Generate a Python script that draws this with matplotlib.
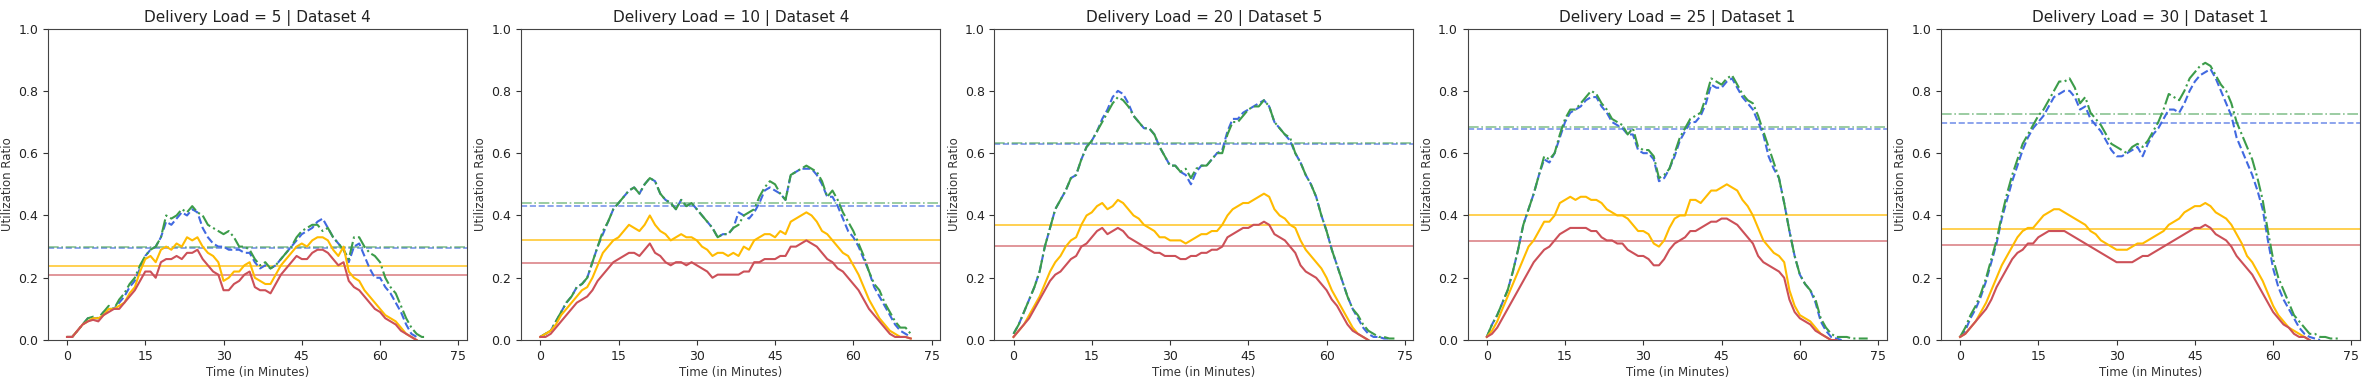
import numpy as np
import matplotlib
matplotlib.use("Agg")
import matplotlib.pyplot as plt

# panel titles
loads = [5, 10, 20, 25, 30]
datasets = [4, 4, 5, 1, 1]

# utilization, one value per minute
blue_5 = [0.01, 0.01, 0.03, 0.05, 0.07, 0.07, 0.07, 0.09, 0.10, 0.10, 0.12, 0.14, 0.17, 0.19, 0.23,
          0.27, 0.29, 0.30, 0.33, 0.38, 0.37, 0.39, 0.41, 0.40, 0.42, 0.41, 0.36, 0.33, 0.31, 0.30,
          0.30, 0.29, 0.29, 0.29, 0.28, 0.28, 0.25, 0.23, 0.24, 0.23, 0.24, 0.26, 0.28, 0.30, 0.32,
          0.34, 0.35, 0.36, 0.38, 0.39, 0.36, 0.33, 0.31, 0.29, 0.25, 0.30, 0.31, 0.27, 0.23, 0.20,
          0.20, 0.17, 0.15, 0.12, 0.09, 0.05, 0.02, 0.01]
green_5 = [0.01, 0.01, 0.03, 0.05, 0.07, 0.075, 0.07, 0.09, 0.11, 0.10, 0.13, 0.15, 0.18, 0.20, 0.24,
           0.27, 0.29, 0.30, 0.33, 0.40, 0.39, 0.40, 0.42, 0.41, 0.43, 0.41, 0.40, 0.37, 0.36, 0.35,
           0.34, 0.35, 0.33, 0.30, 0.30, 0.29, 0.26, 0.24, 0.25, 0.23, 0.24, 0.26, 0.28, 0.30, 0.33,
           0.35, 0.36, 0.37, 0.37, 0.35, 0.36, 0.33, 0.31, 0.29, 0.26, 0.33, 0.33, 0.30, 0.28, 0.27,
           0.25, 0.20, 0.17, 0.15, 0.11, 0.07, 0.04, 0.02, 0.01, 0.01]
yellow_5 = [0.01, 0.01, 0.03, 0.05, 0.06, 0.07, 0.07, 0.08, 0.10, 0.10, 0.11, 0.12, 0.15, 0.17, 0.22,
            0.26, 0.27, 0.25, 0.29, 0.30, 0.29, 0.31, 0.30, 0.33, 0.32, 0.33, 0.30, 0.28, 0.27, 0.25,
            0.19, 0.20, 0.22, 0.22, 0.24, 0.25, 0.20, 0.19, 0.18, 0.18, 0.21, 0.24, 0.26, 0.28, 0.30,
            0.31, 0.30, 0.32, 0.33, 0.33, 0.32, 0.29, 0.27, 0.30, 0.22, 0.20, 0.19, 0.16, 0.14, 0.12,
            0.10, 0.08, 0.07, 0.06, 0.04, 0.02, 0.01, 0.0]
red_5 = [0.01, 0.01, 0.03, 0.05, 0.06, 0.065, 0.06, 0.08, 0.09, 0.10, 0.10, 0.12, 0.14, 0.16, 0.19,
         0.22, 0.22, 0.20, 0.25, 0.26, 0.26, 0.27, 0.26, 0.28, 0.28, 0.29, 0.26, 0.24, 0.22, 0.21,
         0.16, 0.16, 0.18, 0.19, 0.21, 0.22, 0.17, 0.16, 0.16, 0.15, 0.18, 0.21, 0.23, 0.25, 0.27,
         0.26, 0.26, 0.28, 0.29, 0.29, 0.28, 0.26, 0.24, 0.25, 0.19, 0.17, 0.16, 0.14, 0.12, 0.10,
         0.09, 0.07, 0.06, 0.05, 0.03, 0.02, 0.01, 0.0]

blue_10 = [0.01, 0.02, 0.03, 0.06, 0.09, 0.12, 0.14, 0.17, 0.18, 0.20, 0.25, 0.30, 0.34, 0.38, 0.42,
           0.44, 0.46, 0.48, 0.49, 0.47, 0.50, 0.52, 0.51, 0.47, 0.45, 0.44, 0.42, 0.45, 0.43, 0.44,
           0.42, 0.40, 0.38, 0.36, 0.33, 0.34, 0.34, 0.36, 0.41, 0.40, 0.39, 0.41, 0.44, 0.48, 0.49,
           0.48, 0.47, 0.45, 0.53, 0.54, 0.55, 0.55, 0.55, 0.53, 0.50, 0.46, 0.46, 0.43, 0.39, 0.35,
           0.33, 0.30, 0.26, 0.22, 0.17, 0.14, 0.11, 0.08, 0.05, 0.03, 0.02, 0.01]
green_10 = [0.01, 0.02, 0.03, 0.06, 0.09, 0.12, 0.14, 0.17, 0.18, 0.20, 0.25, 0.30, 0.35, 0.38, 0.42,
            0.44, 0.46, 0.48, 0.49, 0.47, 0.50, 0.52, 0.51, 0.47, 0.45, 0.44, 0.42, 0.45, 0.43, 0.44,
            0.42, 0.40, 0.38, 0.36, 0.33, 0.34, 0.34, 0.36, 0.37, 0.40, 0.41, 0.42, 0.46, 0.49, 0.51,
            0.50, 0.47, 0.45, 0.53, 0.54, 0.55, 0.56, 0.55, 0.54, 0.51, 0.46, 0.48, 0.45, 0.41, 0.38,
            0.35, 0.31, 0.27, 0.22, 0.18, 0.16, 0.12, 0.09, 0.06, 0.04, 0.04, 0.02]
yellow_10 = [0.01, 0.02, 0.03, 0.05, 0.08, 0.10, 0.12, 0.14, 0.16, 0.17, 0.20, 0.24, 0.28, 0.30, 0.32,
             0.33, 0.35, 0.37, 0.36, 0.35, 0.37, 0.40, 0.37, 0.35, 0.34, 0.32, 0.33, 0.34, 0.33, 0.33,
             0.32, 0.30, 0.29, 0.27, 0.28, 0.28, 0.27, 0.28, 0.27, 0.30, 0.29, 0.32, 0.33, 0.34, 0.34,
             0.33, 0.35, 0.34, 0.38, 0.39, 0.40, 0.41, 0.40, 0.38, 0.35, 0.34, 0.32, 0.30, 0.28, 0.27,
             0.24, 0.21, 0.17, 0.13, 0.10, 0.07, 0.05, 0.03, 0.02, 0.01, 0.01, 0.005]
red_10 = [0.01, 0.01, 0.02, 0.04, 0.06, 0.08, 0.10, 0.12, 0.13, 0.14, 0.16, 0.19, 0.21, 0.23, 0.25,
          0.26, 0.27, 0.28, 0.28, 0.27, 0.29, 0.31, 0.28, 0.27, 0.25, 0.24, 0.25, 0.25, 0.24, 0.25,
          0.24, 0.23, 0.22, 0.20, 0.21, 0.21, 0.21, 0.21, 0.21, 0.22, 0.22, 0.25, 0.25, 0.26, 0.26,
          0.26, 0.27, 0.27, 0.30, 0.30, 0.31, 0.32, 0.31, 0.30, 0.28, 0.26, 0.25, 0.23, 0.22, 0.20,
          0.18, 0.16, 0.13, 0.10, 0.08, 0.06, 0.04, 0.02, 0.01, 0.01, 0.01, 0.005]

blue_20 = [0.02, 0.05, 0.09, 0.13, 0.17, 0.22, 0.30, 0.36, 0.42, 0.45, 0.48, 0.52, 0.53, 0.58, 0.62,
           0.64, 0.67, 0.71, 0.74, 0.78, 0.80, 0.79, 0.76, 0.72, 0.70, 0.68, 0.68, 0.66, 0.62, 0.59,
           0.56, 0.56, 0.54, 0.53, 0.50, 0.54, 0.56, 0.56, 0.58, 0.60, 0.61, 0.67, 0.71, 0.71, 0.73,
           0.74, 0.75, 0.76, 0.77, 0.75, 0.70, 0.68, 0.66, 0.64, 0.60, 0.57, 0.53, 0.50, 0.46, 0.40,
           0.35, 0.29, 0.24, 0.19, 0.14, 0.10, 0.07, 0.04, 0.02, 0.01, 0.01, 0.005, 0.005]
green_20 = [0.02, 0.05, 0.09, 0.13, 0.17, 0.22, 0.30, 0.36, 0.42, 0.45, 0.48, 0.52, 0.53, 0.58, 0.62,
            0.64, 0.67, 0.70, 0.73, 0.76, 0.78, 0.77, 0.75, 0.72, 0.70, 0.68, 0.68, 0.66, 0.62, 0.59,
            0.56, 0.56, 0.54, 0.55, 0.52, 0.55, 0.56, 0.56, 0.58, 0.60, 0.60, 0.66, 0.70, 0.70, 0.72,
            0.74, 0.75, 0.75, 0.77, 0.75, 0.70, 0.68, 0.66, 0.65, 0.60, 0.57, 0.53, 0.50, 0.46, 0.40,
            0.35, 0.29, 0.24, 0.19, 0.14, 0.10, 0.08, 0.05, 0.03, 0.02, 0.01, 0.01, 0.005, 0.005]
yellow_20 = [0.01, 0.03, 0.05, 0.08, 0.11, 0.14, 0.18, 0.22, 0.25, 0.27, 0.30, 0.32, 0.33, 0.37, 0.40,
             0.41, 0.43, 0.44, 0.42, 0.43, 0.45, 0.44, 0.42, 0.40, 0.39, 0.37, 0.36, 0.35, 0.33, 0.33,
             0.32, 0.32, 0.32, 0.31, 0.32, 0.33, 0.34, 0.34, 0.35, 0.35, 0.37, 0.40, 0.42, 0.43, 0.44,
             0.44, 0.45, 0.46, 0.47, 0.46, 0.42, 0.40, 0.39, 0.37, 0.36, 0.32, 0.29, 0.27, 0.25, 0.23,
             0.20, 0.16, 0.13, 0.10, 0.07, 0.04, 0.02, 0.01, 0.0]
red_20 = [0.01, 0.03, 0.05, 0.07, 0.10, 0.13, 0.16, 0.19, 0.21, 0.22, 0.24, 0.26, 0.27, 0.30, 0.31,
          0.33, 0.35, 0.36, 0.34, 0.35, 0.36, 0.35, 0.33, 0.32, 0.31, 0.30, 0.29, 0.28, 0.28, 0.27,
          0.27, 0.27, 0.26, 0.26, 0.27, 0.27, 0.28, 0.28, 0.29, 0.29, 0.30, 0.33, 0.34, 0.35, 0.36,
          0.36, 0.37, 0.37, 0.38, 0.37, 0.34, 0.33, 0.32, 0.30, 0.28, 0.24, 0.22, 0.21, 0.20, 0.18,
          0.16, 0.13, 0.11, 0.08, 0.05, 0.03, 0.02, 0.01, 0.0]

blue_25 = [0.01, 0.05, 0.08, 0.12, 0.16, 0.22, 0.29, 0.37, 0.42, 0.47, 0.53, 0.58, 0.57, 0.60, 0.65,
           0.70, 0.73, 0.74, 0.75, 0.77, 0.78, 0.78, 0.75, 0.73, 0.70, 0.69, 0.68, 0.66, 0.66, 0.61,
           0.60, 0.60, 0.58, 0.51, 0.52, 0.55, 0.59, 0.64, 0.67, 0.70, 0.70, 0.72, 0.76, 0.82, 0.81,
           0.81, 0.83, 0.84, 0.81, 0.78, 0.76, 0.74, 0.70, 0.66, 0.59, 0.55, 0.52, 0.44, 0.35, 0.27,
           0.21, 0.18, 0.16, 0.12, 0.06, 0.03, 0.01, 0.005, 0.0]
green_25 = [0.01, 0.05, 0.08, 0.12, 0.16, 0.22, 0.29, 0.37, 0.42, 0.47, 0.53, 0.59, 0.58, 0.60, 0.66,
            0.71, 0.74, 0.74, 0.76, 0.78, 0.80, 0.79, 0.76, 0.74, 0.71, 0.70, 0.69, 0.66, 0.68, 0.62,
            0.61, 0.61, 0.59, 0.52, 0.53, 0.55, 0.60, 0.65, 0.68, 0.71, 0.72, 0.73, 0.78, 0.84, 0.83,
            0.82, 0.84, 0.85, 0.82, 0.79, 0.77, 0.76, 0.72, 0.67, 0.62, 0.57, 0.52, 0.44, 0.35, 0.27,
            0.21, 0.18, 0.16, 0.13, 0.07, 0.04, 0.02, 0.01, 0.01, 0.01, 0.005, 0.005, 0.005, 0.005]
yellow_25 = [0.01, 0.03, 0.06, 0.10, 0.14, 0.18, 0.22, 0.26, 0.30, 0.32, 0.35, 0.38, 0.38, 0.40, 0.44,
             0.45, 0.46, 0.45, 0.46, 0.46, 0.45, 0.45, 0.44, 0.42, 0.41, 0.40, 0.40, 0.39, 0.37, 0.35,
             0.35, 0.34, 0.31, 0.30, 0.32, 0.36, 0.39, 0.40, 0.40, 0.45, 0.45, 0.44, 0.46, 0.48, 0.48,
             0.49, 0.50, 0.49, 0.48, 0.45, 0.43, 0.40, 0.36, 0.32, 0.30, 0.28, 0.27, 0.25, 0.16, 0.11,
             0.08, 0.07, 0.06, 0.04, 0.02, 0.01, 0.0, 0.0]
red_25 = [0.01, 0.02, 0.04, 0.07, 0.10, 0.13, 0.16, 0.19, 0.22, 0.25, 0.27, 0.29, 0.30, 0.32, 0.34,
          0.35, 0.36, 0.36, 0.36, 0.36, 0.35, 0.35, 0.33, 0.32, 0.32, 0.31, 0.31, 0.29, 0.28, 0.27,
          0.27, 0.26, 0.24, 0.24, 0.26, 0.29, 0.31, 0.32, 0.33, 0.35, 0.35, 0.36, 0.37, 0.38, 0.38,
          0.39, 0.39, 0.38, 0.37, 0.35, 0.33, 0.31, 0.27, 0.25, 0.24, 0.23, 0.22, 0.20, 0.13, 0.09,
          0.07, 0.06, 0.05, 0.03, 0.02, 0.01, 0.0, 0.0]

blue_30 = [0.01, 0.03, 0.07, 0.10, 0.14, 0.19, 0.25, 0.31, 0.39, 0.45, 0.51, 0.56, 0.61, 0.65, 0.68,
           0.70, 0.72, 0.75, 0.78, 0.79, 0.80, 0.80, 0.78, 0.74, 0.75, 0.71, 0.69, 0.67, 0.64, 0.61,
           0.59, 0.59, 0.60, 0.61, 0.62, 0.59, 0.63, 0.66, 0.68, 0.71, 0.74, 0.74, 0.73, 0.76, 0.80,
           0.83, 0.85, 0.86, 0.87, 0.84, 0.80, 0.76, 0.72, 0.65, 0.61, 0.57, 0.53, 0.48, 0.42, 0.32,
           0.23, 0.17, 0.13, 0.10, 0.07, 0.04, 0.02, 0.01, 0.005, 0.0]
green_30 = [0.01, 0.04, 0.08, 0.11, 0.15, 0.20, 0.26, 0.32, 0.40, 0.47, 0.53, 0.58, 0.63, 0.66, 0.69,
            0.72, 0.74, 0.77, 0.80, 0.83, 0.83, 0.84, 0.81, 0.76, 0.78, 0.73, 0.71, 0.69, 0.66, 0.63,
            0.62, 0.61, 0.60, 0.62, 0.63, 0.62, 0.64, 0.67, 0.70, 0.74, 0.79, 0.78, 0.77, 0.80, 0.84,
            0.86, 0.88, 0.89, 0.88, 0.85, 0.82, 0.80, 0.76, 0.70, 0.66, 0.62, 0.58, 0.52, 0.45, 0.35,
            0.26, 0.20, 0.16, 0.12, 0.08, 0.06, 0.04, 0.02, 0.02, 0.01, 0.01, 0.005, 0.005, 0.005]
yellow_30 = [0.01, 0.02, 0.04, 0.06, 0.09, 0.12, 0.16, 0.20, 0.24, 0.27, 0.30, 0.33, 0.35, 0.36, 0.36,
             0.38, 0.40, 0.41, 0.42, 0.42, 0.41, 0.40, 0.39, 0.38, 0.37, 0.35, 0.34, 0.32, 0.31, 0.30,
             0.29, 0.29, 0.29, 0.30, 0.31, 0.31, 0.32, 0.33, 0.34, 0.35, 0.37, 0.38, 0.39, 0.41, 0.42,
             0.43, 0.43, 0.44, 0.43, 0.41, 0.40, 0.39, 0.37, 0.34, 0.31, 0.27, 0.25, 0.22, 0.19, 0.15,
             0.11, 0.08, 0.06, 0.04, 0.03, 0.02, 0.01, 0.0]
red_30 = [0.01, 0.02, 0.04, 0.06, 0.08, 0.10, 0.13, 0.17, 0.20, 0.23, 0.26, 0.28, 0.29, 0.31, 0.31,
          0.33, 0.34, 0.35, 0.35, 0.35, 0.35, 0.34, 0.33, 0.32, 0.31, 0.30, 0.29, 0.28, 0.27, 0.26,
          0.25, 0.25, 0.25, 0.25, 0.26, 0.27, 0.27, 0.28, 0.29, 0.30, 0.31, 0.32, 0.33, 0.34, 0.35,
          0.36, 0.36, 0.37, 0.36, 0.34, 0.33, 0.32, 0.30, 0.27, 0.25, 0.23, 0.21, 0.18, 0.15, 0.12,
          0.09, 0.07, 0.05, 0.04, 0.02, 0.01, 0.01, 0.0]

# average utilization (horizontal lines)
blue_mean = [0.297, 0.430, 0.631, 0.678, 0.697]
green_mean = [0.298, 0.441, 0.632, 0.683, 0.725]
yellow_mean = [0.238, 0.321, 0.369, 0.400, 0.356]
red_mean = [0.208, 0.248, 0.302, 0.318, 0.304]

blues = [blue_5, blue_10, blue_20, blue_25, blue_30]
greens = [green_5, green_10, green_20, green_25, green_30]
yellows = [yellow_5, yellow_10, yellow_20, yellow_25, yellow_30]
reds = [red_5, red_10, red_20, red_25, red_30]

c_blue = '#4169e1'
c_green = '#3c9c4a'
c_yellow = '#ffbb00'
c_red = '#cc5058'

fig, axes = plt.subplots(1, 5, figsize=(23.74, 3.86), dpi=100)
fig.subplots_adjust(left=0.0202, right=0.9941, bottom=0.119, top=0.926, wspace=0.1295)

for i, ax in enumerate(axes):
    ax.plot(np.arange(len(blues[i])), blues[i], color=c_blue, ls='--', lw=1.5, zorder=3)
    ax.plot(np.arange(len(greens[i])), greens[i], color=c_green, ls='-.', lw=1.5, zorder=4)
    ax.plot(np.arange(len(yellows[i])), yellows[i], color=c_yellow, ls='-', lw=1.5, zorder=5)
    ax.plot(np.arange(len(reds[i])), reds[i], color=c_red, ls='-', lw=1.5, zorder=6)
    ax.axhline(blue_mean[i], color=c_blue, ls='--', lw=1.2, alpha=0.7, zorder=2)
    ax.axhline(green_mean[i], color=c_green, ls='-.', lw=1.2, alpha=0.6, zorder=2)
    ax.axhline(yellow_mean[i], color=c_yellow, ls='-', lw=1.2, alpha=0.8, zorder=2)
    ax.axhline(red_mean[i], color=c_red, ls='-', lw=1.2, alpha=0.7, zorder=2)
    ax.set_xlim(-3.65, 76.65)
    ax.set_ylim(0, 1)
    ax.set_xticks([0, 15, 30, 45, 60, 75])
    ax.set_yticks(np.arange(0, 1.01, 0.2))
    ax.tick_params(labelsize=9, colors='#333333', labelcolor='#222222')
    for s in ax.spines.values():
        s.set_color('#444444')
    ax.set_xlabel('Time (in Minutes)', fontsize=8.5, color='#333333', labelpad=2)
    ax.set_ylabel('Utilization Ratio', fontsize=8.5, color='#333333', labelpad=3)
    ax.set_title('Delivery Load = %d | Dataset %d' % (loads[i], datasets[i]), fontsize=11,
                 color='#222222', pad=5)

fig.savefig('out.png', dpi=100, facecolor='white')
